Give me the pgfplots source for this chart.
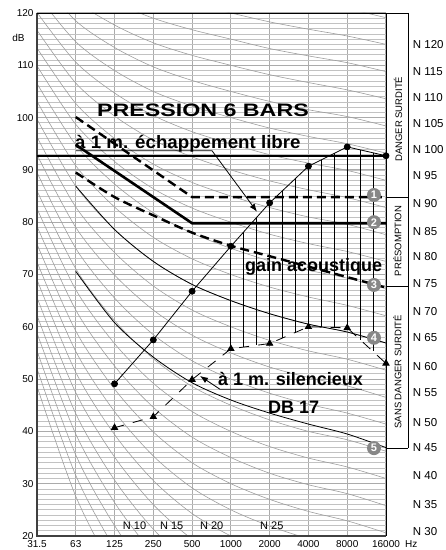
\documentclass[border=0pt]{standalone}
\usepackage{pgfplots}
\pgfplotsset{compat=1.18}
\usepackage{pgfplotstable}
\usepackage{fontspec}
\setmainfont{Liberation Sans}
\usetikzlibrary{arrows.meta}

% NR-type reference curves, one column per curve (N -10 ... N 125, step 5)
\pgfplotstableread{
i n1 n2 n3 n4 n5 n6 n7 n8 n9 n10 n11 n12 n13 n14 n15 n16 n17 n18 n19 n20 n21 n22 n23 n24 n25 n26 n27 n28
0 48.6 52.0 55.4 58.8 62.2 65.6 69.0 72.4 75.8 79.2 82.6 86.0 89.5 92.9 96.3 99.7 103.1 106.5 109.9 113.3 116.7 120.1 123.5 126.9 130.3 133.7 137.1 140.5
1 27.6 31.6 35.5 39.5 43.4 47.4 51.3 55.3 59.2 63.2 67.1 71.1 75.0 79.0 82.9 86.9 90.8 94.8 98.7 102.7 106.6 110.6 114.5 118.5 122.4 126.4 130.3 134.3
2 13.3 17.7 22.0 26.4 30.7 35.1 39.4 43.8 48.1 52.5 56.8 61.2 65.5 69.9 74.2 78.6 82.9 87.3 91.6 96.0 100.3 104.7 109.0 113.4 117.7 122.1 126.4 130.8
3 2.7 7.4 12.0 16.7 21.3 26.0 30.6 35.3 39.9 44.6 49.2 53.9 58.5 63.2 67.8 72.5 77.1 81.8 86.4 91.1 95.7 100.4 105.0 109.7 114.3 119.0 123.6 128.3
4 -4.9 -0.1 4.8 9.7 14.5 19.4 24.3 29.2 34.0 38.9 43.8 48.6 53.5 58.4 63.2 68.1 73.0 77.9 82.7 87.6 92.5 97.3 102.2 107.1 111.9 116.8 121.7 126.6
5 -10 -5 0 5 10 15 20 25 30 35 40 45 50 55 60 65 70 75 80 85 90 95 100 105 110 115 120 125
6 -13.7 -8.6 -3.5 1.6 6.7 11.7 16.8 21.9 27.0 32.0 37.1 42.2 47.3 52.3 57.4 62.5 67.6 72.6 77.7 82.8 87.9 92.9 98.0 103.1 108.2 113.2 118.3 123.4
7 -16.4 -11.2 -6.1 -1.0 4.2 9.3 14.4 19.5 24.7 29.8 34.9 40.0 45.2 50.3 55.4 60.5 65.7 70.8 75.9 81.0 86.2 91.3 96.4 101.5 106.7 111.8 116.9 122.0
8 -18.3 -13.2 -8.0 -2.9 2.3 7.5 12.6 17.8 22.9 28.1 33.2 38.4 43.5 48.7 53.8 59.0 64.1 69.3 74.4 79.6 84.7 89.9 95.0 100.2 105.3 110.5 115.6 120.8
9 -20.9 -15.7 -10.5 -5.3 -0.1 5.1 10.2 15.4 20.6 25.8 31.0 36.2 41.4 46.5 51.7 56.9 62.1 67.3 72.5 77.6 82.8 88.0 93.2 98.4 103.6 108.8 114.0 119.1
}\nrtable

\begin{document}
\begin{tikzpicture}
\useasboundingbox (0,0) rectangle (446pt,550pt);
\begin{axis}[
  at={(37pt,14pt)}, anchor=south west,
  scale only axis, width=349pt, height=523pt,
  xmin=0, xmax=9, ymin=20, ymax=120,
  xtick={0,...,9},
  xticklabels={31.5,63,125,250,500,1000,2000,4000,8000,16000},
  ytick={20,30,...,120},
  minor ytick={20,21,...,120},
  grid=both,
  major grid style={draw=black!33, line width=1pt},
  minor grid style={draw=black!24, line width=0.75pt},
  major tick length=0pt, minor tick length=0pt,
  axis line style={draw=none},
  clip mode=individual,
  /pgf/number format/assume math mode=true,
  tick label style={font=\fontsize{10}{12}\selectfont},
  xticklabel style={anchor=base, yshift=-12pt},
]
% background NR curves
\pgfplotsinvokeforeach{1,...,28}{
  \addplot[black!38, line width=0.6pt, smooth] table[x index=0, y index=#1]{\nrtable};
}
% borders
\draw[black!75, line width=1.8pt] (axis cs:0,120) -- (axis cs:0,20) -- (axis cs:9,20);
\draw[black, line width=0.8pt] (axis cs:0,120) -- (axis cs:9.567,120);
\draw[black, line width=0.8pt] (axis cs:9,120) -- (axis cs:9,20);
\draw[black, line width=0.8pt] (axis cs:9.567,120) -- (axis cs:9.567,36.8);
\draw[black, line width=0.8pt] (axis cs:9,84.8) -- (axis cs:9.567,84.8);
\draw[black, line width=0.8pt] (axis cs:9,67.8) -- (axis cs:9.567,67.8);
\draw[black, line width=0.8pt] (axis cs:9,36.8) -- (axis cs:9.567,36.8);

% thin curves 4 and 5
\addplot[black, line width=0.8pt, smooth] coordinates {(1,86.9) (2,78.6) (3,72.5) (4,68.1) (5,65.0) (6,62.5) (7,60.5) (8,59.0) (9,56.9)};
\addplot[black, line width=0.8pt, smooth] coordinates {(1,70.6) (2,60.8) (3,54.2) (4,49.3) (5,46.0) (6,43.5) (7,41.4) (8,39.5) (9,36.9)};

% hatch (acoustic gain)
\addplot[black, line width=0.8pt, unbounded coords=jump] coordinates {
(5,75.4) (5,55.8) (5,nan)
(5.333,78.2) (5.333,56.1) (5.333,nan)
(5.667,81.0) (5.667,56.5) (5.667,nan)
(6,83.7) (6,56.8) (6,nan)
(6.333,86.0) (6.333,57.9) (6.333,nan)
(6.667,88.4) (6.667,58.9) (6.667,nan)
(7,90.7) (7,60.0) (7,nan)
(7.333,91.9) (7.333,59.9) (7.333,nan)
(7.667,93.2) (7.667,59.9) (7.667,nan)
(8,94.4) (8,59.8) (8,nan)
(8.333,93.8) (8.333,57.5) (8.333,nan)
(8.667,93.3) (8.667,55.3) (8.667,nan)
(9,92.7) (9,53.0)
};

% thick horizontal level
\addplot[black, line width=1.5pt] coordinates {(0,92.7) (9,92.7)};
% line 1 (dashed)
\addplot[black, line width=2.4pt, dash pattern=on 9pt off 5pt] coordinates {(1,100.1) (4,84.8) (9,84.8)};
% line 2 (solid)
\addplot[black, line width=2.6pt] coordinates {(1,94.8) (4,79.8) (9,79.8)};
% line 3 (dashed)
\addplot[black, line width=2.4pt, dash pattern=on 9pt off 5pt, smooth] coordinates {(1,89.5) (2,84.8) (3,81.3) (4,78.0) (5,75.5) (6,73.5) (7,71.5) (8,69.5) (9,67.5)};

% free exhaust spectrum
\addplot[black, line width=0.8pt, mark=*, mark size=3pt] coordinates {(2,49.1) (3,57.5) (4,66.8) (5,75.4) (6,83.7) (7,90.7) (8,94.4) (9,92.7)};
% silenced spectrum
\addplot[black, line width=0.8pt, dash pattern=on 10pt off 9pt, mark=triangle*, mark size=3.6pt, mark options={solid}] coordinates {(2,40.7) (3,42.8) (4,49.9) (5,55.8) (6,56.8) (7,60.0) (8,59.8) (9,53.0)};

% numbered circles
\foreach \n/\v in {1/85.2, 2/80.0, 3/68.0, 4/57.9, 5/36.8} {
  \edef\tmp{\noexpand\node[circle, fill=black!47, text=white, inner sep=0pt, minimum size=14pt, font=\noexpand\bfseries\noexpand\fontsize{11}{11}\noexpand\selectfont] at (axis cs:8.69,\v) {\n};}
  \tmp
}

% labels
\node[anchor=base west, inner sep=0pt, font=\bfseries\fontsize{18}{18}\selectfont] at (axis cs:1.547,100.3) {\scalebox{1.29}[1]{PRESSION 6 BARS}};
\node[anchor=base west, inner sep=0pt, font=\bfseries\fontsize{18}{18}\selectfont] at (axis cs:0.98,94.1) {\scalebox{1.04}[1]{à 1 m. échappement libre}};
\node[anchor=base west, inner sep=0pt, font=\bfseries\fontsize{18}{18}\selectfont] at (axis cs:5.36,70.5) {gain acoustique};
\node[anchor=base west, inner sep=0pt, font=\bfseries\fontsize{18}{18}\selectfont] at (axis cs:4.667,48.8) {à 1 m. silencieux};
\node[anchor=base west, inner sep=0pt, font=\bfseries\fontsize{18}{18}\selectfont] at (axis cs:5.956,43.5) {DB 17};

\draw[black, line width=0.8pt, -{Latex[length=8pt,width=6pt]}] (axis cs:1.006,93.67) -- (axis cs:4.513,93.67) -- (axis cs:5.673,82.0);
\draw[black, line width=0.8pt, {Latex[length=8pt,width=6pt]}-] (axis cs:4.203,50.6) -- (axis cs:4.719,48.05) -- (axis cs:8.38,48.05);

% vertical zone texts
\node[rotate=90, inner sep=0pt, font=\fontsize{9.5}{10}\selectfont] at (axis cs:9.31,99.7) {DANGER SURDITÉ};
\node[rotate=90, inner sep=0pt, font=\fontsize{9.5}{10}\selectfont] at (axis cs:9.29,76.4) {PRÉSOMPTION};
\node[rotate=90, inner sep=0pt, font=\fontsize{9.5}{10}\selectfont] at (axis cs:9.29,51.4) {SANS DANGER SURDITÉ};

% N labels on the right
\node[anchor=west, inner sep=0pt, font=\fontsize{11.5}{12}\selectfont] at (axis cs:9.688,113.88) {N 120};
\node[anchor=west, inner sep=0pt, font=\fontsize{11.5}{12}\selectfont] at (axis cs:9.688,108.72) {N 115};
\node[anchor=west, inner sep=0pt, font=\fontsize{11.5}{12}\selectfont] at (axis cs:9.688,103.75) {N 110};
\node[anchor=west, inner sep=0pt, font=\fontsize{11.5}{12}\selectfont] at (axis cs:9.688,98.78) {N 105};
\node[anchor=west, inner sep=0pt, font=\fontsize{11.5}{12}\selectfont] at (axis cs:9.688,93.80) {N 100};
\node[anchor=west, inner sep=0pt, font=\fontsize{11.5}{12}\selectfont] at (axis cs:9.688,88.83) {N 95};
\node[anchor=west, inner sep=0pt, font=\fontsize{11.5}{12}\selectfont] at (axis cs:9.688,83.48) {N 90};
\node[anchor=west, inner sep=0pt, font=\fontsize{11.5}{12}\selectfont] at (axis cs:9.688,78.13) {N 85};
\node[anchor=west, inner sep=0pt, font=\fontsize{11.5}{12}\selectfont] at (axis cs:9.688,73.35) {N 80};
\node[anchor=west, inner sep=0pt, font=\fontsize{11.5}{12}\selectfont] at (axis cs:9.688,68.18) {N 75};
\node[anchor=west, inner sep=0pt, font=\fontsize{11.5}{12}\selectfont] at (axis cs:9.688,62.83) {N 70};
\node[anchor=west, inner sep=0pt, font=\fontsize{11.5}{12}\selectfont] at (axis cs:9.688,57.86) {N 65};
\node[anchor=west, inner sep=0pt, font=\fontsize{11.5}{12}\selectfont] at (axis cs:9.688,52.31) {N 60};
\node[anchor=west, inner sep=0pt, font=\fontsize{11.5}{12}\selectfont] at (axis cs:9.688,47.34) {N 55};
\node[anchor=west, inner sep=0pt, font=\fontsize{11.5}{12}\selectfont] at (axis cs:9.688,41.61) {N 50};
\node[anchor=west, inner sep=0pt, font=\fontsize{11.5}{12}\selectfont] at (axis cs:9.688,36.83) {N 45};
\node[anchor=west, inner sep=0pt, font=\fontsize{11.5}{12}\selectfont] at (axis cs:9.688,31.47) {N 40};
\node[anchor=west, inner sep=0pt, font=\fontsize{11.5}{12}\selectfont] at (axis cs:9.688,25.93) {N 35};
\node[anchor=west, inner sep=0pt, font=\fontsize{11.5}{12}\selectfont] at (axis cs:9.688,20.76) {N 30};

% N labels at the bottom
\node[anchor=base west, inner sep=0pt, font=\fontsize{11}{12}\selectfont] at (axis cs:2.21,21.15) {N 10};
\node[anchor=base west, inner sep=0pt, font=\fontsize{11}{12}\selectfont] at (axis cs:3.17,21.15) {N 15};
\node[anchor=base west, inner sep=0pt, font=\fontsize{11}{12}\selectfont] at (axis cs:4.20,21.15) {N 20};
\node[anchor=base west, inner sep=0pt, font=\fontsize{11}{12}\selectfont] at (axis cs:5.75,21.15) {N 25};

% axis unit labels
\node[inner sep=0pt, font=\fontsize{10}{12}\selectfont] at (axis cs:-0.48,115.2) {dB};
\node[anchor=base west, inner sep=0pt, yshift=-12pt, font=\fontsize{10}{12}\selectfont] at (axis cs:9.49,20) {Hz};
\end{axis}
\end{tikzpicture}
\end{document}
